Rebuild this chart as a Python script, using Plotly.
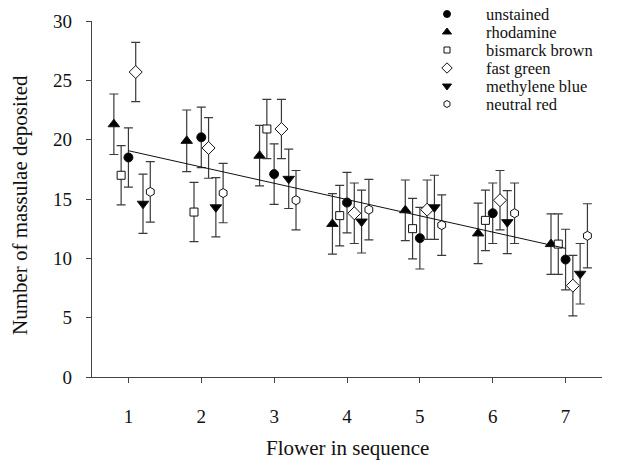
import numpy as np
import plotly.graph_objects as go

# Flower position in the visiting sequence
flowers = [1, 2, 3, 4, 5, 6, 7]

# Mean number of massulae deposited (and error) for each stain treatment
unstained = [18.5, 20.2, 17.1, 14.7, 11.7, 13.8, 9.9]
unstained_err = [2.5, 2.55, 2.55, 2.55, 2.6, 2.55, 2.55]

rhodamine = [21.3, 19.9, 18.65, 12.9, 14.05, 12.1, 11.2]
rhodamine_err = [2.55, 2.6, 2.55, 2.55, 2.55, 2.55, 2.55]

bismarck_brown = [17.0, 13.9, 20.9, 13.6, 12.5, 13.2, 11.2]
bismarck_brown_err = [2.5, 2.5, 2.5, 2.55, 2.55, 2.55, 2.55]

fast_green = [25.7, 19.3, 20.9, 13.8, 14.1, 14.9, 7.7]
fast_green_err = [2.5, 2.55, 2.5, 2.55, 2.5, 2.5, 2.55]

methylene_blue = [14.6, 14.3, 16.7, 13.1, 14.3, 13.05, 8.7]
methylene_blue_err = [2.5, 2.5, 2.5, 2.65, 2.7, 2.65, 2.55]

neutral_red = [15.6, 15.5, 14.9, 14.1, 12.8, 13.8, 11.9]
neutral_red_err = [2.55, 2.5, 2.5, 2.55, 2.55, 2.55, 2.7]

y_ticks = [0, 5, 10, 15, 20, 25, 30]

# name, values, errors, symbol, fill, horizontal offset within a flower group, size
series = [
    ("unstained", unstained, unstained_err, "circle", "black", 0.0, 9),
    ("rhodamine", rhodamine, rhodamine_err, "triangle-up", "black", -0.2, 10),
    ("bismarck brown", bismarck_brown, bismarck_brown_err, "square", "white", -0.1, 8),
    ("fast green", fast_green, fast_green_err, "diamond", "white", 0.1, 10),
    ("methylene blue", methylene_blue, methylene_blue_err, "triangle-down", "black", 0.2, 10),
    ("neutral red", neutral_red, neutral_red_err, "hexagon", "white", 0.3, 9),
]

FONT = "Liberation Serif, Times New Roman, serif"
INK = "#111111"
AXIS = "#444444"

W, H = 627, 460
PLOT_L, PLOT_R, PLOT_T, PLOT_B = 92, 602, 21, 377  # plot area in pixels
TOP_PAD = 4

fig = go.Figure()

# Error bars and markers for every treatment
for name, vals, errs, sym, fill, off, size in series:
    fig.add_trace(go.Scatter(
        x=[f + off for f in flowers], y=vals, xaxis="x", yaxis="y",
        mode="markers", name=name, showlegend=False,
        marker=dict(symbol=sym, size=size, color=fill,
                    line=dict(color=INK, width=1)),
        error_y=dict(type="data", array=errs, visible=True,
                     color="#3a3a3a", thickness=1.2, width=4.5),
    ))

# Least-squares trend across all treatments
all_x = np.concatenate([flowers for _ in series])
all_y = np.concatenate([s[1] for s in series])
slope, intercept = np.polyfit(all_x, all_y, 1)
fx = np.array([flowers[0], flowers[-1]])
fig.add_trace(go.Scatter(
    x=fx, y=intercept + slope * fx, xaxis="x", yaxis="y", mode="lines",
    showlegend=False, line=dict(color=INK, width=1), hoverinfo="skip",
))

# Key in the upper right, on a separate pixel-unit subplot (y measured from the top)
key_x_marker, key_x_text = 447, 484
key_row0, key_step = 14, 18
for i, (name, vals, errs, sym, fill, off, size) in enumerate(series):
    ky = key_row0 + i * key_step
    fig.add_trace(go.Scatter(
        x=[key_x_marker], y=[ky], xaxis="x2", yaxis="y2", mode="markers",
        showlegend=False, cliponaxis=False, hoverinfo="skip",
        marker=dict(symbol=sym, size=size - 2, color=fill,
                    line=dict(color=INK, width=1)),
    ))
    fig.add_annotation(x=key_x_text, y=ky, xref="x2", yref="y2", text=name,
                       showarrow=False, xanchor="left", yanchor="middle",
                       font=dict(family=FONT, size=16.5, color=INK))

plot_h = PLOT_B - PLOT_T
fig.update_layout(
    width=W, height=H,
    margin=dict(l=PLOT_L, r=W - PLOT_R, t=TOP_PAD, b=H - PLOT_B,
                autoexpand=False),
    paper_bgcolor="white", plot_bgcolor="rgba(0,0,0,0)",
    font=dict(family=FONT, size=19, color=INK),
    xaxis=dict(range=[0.5, 7.5], tickvals=flowers, ticks="outside",
               anchor="y", domain=[0, 1], automargin=False,
               ticklen=5, tickcolor=AXIS, showline=True, linecolor=AXIS,
               linewidth=1.2, showgrid=False, zeroline=False,
               ticklabelstandoff=17),
    yaxis=dict(range=[0, 30], tickvals=y_ticks, ticks="outside",
               anchor="x", domain=[0, plot_h / (PLOT_B - TOP_PAD)],
               automargin=False,
               ticklen=5, tickcolor=AXIS, showline=True, linecolor=AXIS,
               linewidth=1.2, showgrid=False, zeroline=False,
               ticklabelstandoff=10),
    xaxis2=dict(anchor="y2", domain=[0, 1], range=[PLOT_L, PLOT_R],
                visible=False, fixedrange=True, automargin=False),
    yaxis2=dict(anchor="x2", domain=[0, 1], range=[PLOT_B, TOP_PAD],
                visible=False, fixedrange=True, automargin=False),
    annotations=list(fig.layout.annotations) + [
        dict(text="Flower in sequence", xref="paper", yref="paper",
             x=0.5, y=-0.19, showarrow=False, yanchor="middle",
             font=dict(family=FONT, size=21, color=INK)),
        dict(text="Number of massulae deposited", xref="paper", yref="paper",
             x=-0.14, y=0.46, showarrow=False, textangle=-90,
             xanchor="center", yanchor="middle",
             font=dict(family=FONT, size=21, color=INK)),
    ],
)

fig.write_html("out.html")
